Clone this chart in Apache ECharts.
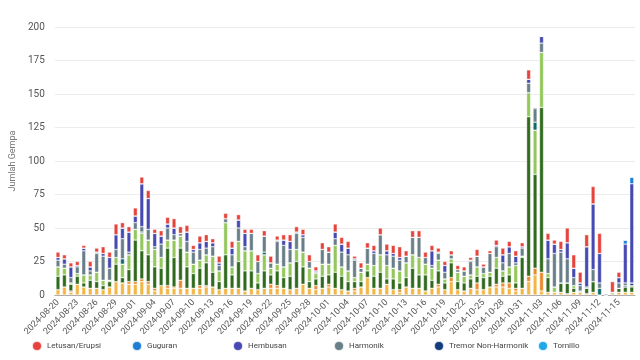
<!DOCTYPE html>
<html>
<head>
<meta charset="utf-8">
<title>Jumlah Gempa</title>
<script src="https://cdn.jsdelivr.net/npm/echarts@6/dist/echarts.min.js"></script>
<style>
  html, body { margin: 0; padding: 0; background: #fff; }
  #chart { width: 640px; height: 360px; }
</style>
</head>
<body>
<div id="chart"></div>
<script>
// tanggal harian 2024-08-20 .. 2024-11-17
const startDate = '2024-08-20'
const dayCount = 90
const dates = []
for (let i = 0; i < dayCount; i++) {
  const d = new Date(startDate + 'T00:00:00Z')
  d.setUTCDate(d.getUTCDate() + i)
  dates.push(d.toISOString().slice(0, 10))
}

const yTicks = { min: 0, max: 200, interval: 25 }

const tektonikJauh = [4,6,2,8,6,5,5,4,6,10, 9,8,8,10,8,3,7,5,5,5, 5,5,5,6,6,4,5,5,5,3, 5,4,5,5,5,5,4,5,8,5, 4,5,6,5,4,3,3,6,13,5, 5,8,4,2,6,5,5,3,5,6, 4,10,4,3,5,4,4,6,6,6, 5,3,5,10,15,3,2,2,2,1, 2,2,1,2,0,0,1,2,2,2]
const tektonikLokal = [0,0,1,0,0,0,0,0,0,0, 0,2,2,2,2,2,0,2,1,6, 0,0,2,1,0,0,0,0,0,0, 0,0,0,3,2,0,0,0,0,0, 3,0,2,0,0,0,2,0,0,0, 0,0,0,2,0,0,0,0,0,2, 0,3,0,0,0,5,0,0,2,3, 4,2,0,4,5,14,0,0,0,0, 0,0,0,0,0,0,0,0,0,0]
const vulkanikDalam = [10,9,5,6,3,6,5,3,4,13, 4,9,31,21,20,16,13,28,22,24, 16,11,13,17,11,6,25,10,20,15, 13,5,13,7,11,8,10,20,13,5, 5,9,7,12,10,7,5,4,5,9, 12,4,8,5,7,15,10,12,6,10, 5,11,6,6,7,5,9,8,12,5, 6,4,23,119,70,123,11,0,7,8, 3,1,4,8,0,0,1,3,4,4]
const vulkanikDangkal = [7,5,1,2,6,4,7,4,1,5, 10,11,8,13,11,13,8,6,13,9, 11,7,6,6,12,8,24,6,15,15, 15,7,12,5,5,8,10,9,11,10, 4,9,8,20,7,8,3,7,5,8, 13,10,8,9,11,10,13,8,9,8, 3,3,7,5,3,7,3,3,8,4, 6,13,1,18,33,41,3,4,0,0, 2,0,0,0,0,0,0,0,0,1]
const tremorNonHarmonik = [0,0,0,0,0,0,0,0,0,0, 0,0,0,1,0,0,0,0,0,0, 0,0,0,0,0,0,0,0,0,0, 0,0,0,0,0,0,0,0,0,0, 0,0,0,0,0,0,0,0,0,0, 0,0,0,0,0,0,0,0,0,0, 0,0,0,0,0,0,0,0,0,0, 0,0,0,0,0,0,0,0,0,0, 0,0,1,0,0,1,0,0,1,2]
const lowFrequency = [0,0,0,0,0,0,0,0,0,0, 4,0,0,0,0,0,0,0,0,0, 0,0,0,0,0,0,0,0,0,0, 0,0,2,0,0,0,0,0,0,0, 0,0,0,0,0,0,0,0,0,0, 0,0,0,0,0,0,0,0,0,0, 0,0,0,0,0,0,0,0,0,0, 0,0,0,0,6,0,0,0,0,0, 0,0,0,0,5,0,0,0,0,0]
const harmonik = [5,3,4,5,18,3,14,18,9,6, 15,2,5,4,8,2,10,9,4,2, 8,9,8,5,7,4,3,9,10,3, 13,9,12,4,17,16,10,12,11,5, 1,11,9,5,11,12,13,3,12,9, 15,8,9,8,5,13,15,5,2,5, 5,3,2,4,10,8,5,14,8,6, 10,2,6,7,10,7,11,25,23,18, 6,4,0,9,4,0,0,4,2,0]
const hembusan = [2,4,8,1,2,3,1,2,8,11, 8,15,5,32,23,10,6,3,5,0, 7,2,5,5,3,2,0,5,6,10, 0,0,0,0,1,4,6,1,2,0, 1,0,0,5,6,5,1,0,0,2, 0,3,2,2,0,0,0,0,11,1, 5,0,0,0,1,0,0,0,1,6, 5,5,1,3,1,5,14,7,2,12, 7,2,30,49,22,0,0,4,29,74]
const guguran = [0,0,0,0,0,0,0,0,0,0, 0,0,0,0,0,0,0,0,0,0, 0,0,0,0,0,0,0,0,0,0, 0,0,0,0,0,0,0,0,0,0, 0,0,0,0,0,0,0,0,0,0, 0,0,0,0,0,0,0,0,0,0, 0,0,0,0,0,0,0,0,0,0, 0,0,0,0,0,0,0,0,0,0, 0,0,0,0,0,0,0,0,3,5]
const tornillo = [0,0,0,0,0,0,0,0,0,0, 0,0,0,0,0,0,0,0,0,0, 0,0,0,0,0,0,0,0,0,0, 0,0,0,0,0,0,0,0,0,0, 0,0,0,0,0,0,0,0,0,0, 0,0,0,0,0,0,0,0,0,0, 0,0,0,0,0,0,0,0,0,0, 0,0,0,0,0,0,0,0,0,0, 0,0,0,0,0,0,0,0,0,0]
const letusan = [4,3,3,3,2,4,3,5,4,8, 4,4,6,5,6,3,4,5,7,5, 5,3,5,5,3,5,4,5,4,3, 3,5,4,5,3,4,5,4,4,5, 3,5,4,6,5,5,2,4,4,4, 5,5,6,8,4,5,5,4,4,3, 3,3,3,3,2,5,2,2,4,5, 4,4,3,7,0,0,5,3,6,11, 10,8,9,13,15,0,8,4,0,0]

const legendNames = ['Letusan/Erupsi', 'Guguran', 'Hembusan', 'Harmonik', 'Tremor Non-Harmonik', 'Tornillo']
const legendLeft = [26, 126, 227, 328, 428, 532]

// urutan tumpukan dari bawah ke atas
const seriesDefs = [
  { name: 'Tektonik Jauh', data: tektonikJauh, color: '#f3b646' },
  { name: 'Tektonik Lokal', data: tektonikLokal, color: '#e98a2c' },
  { name: 'Vulkanik Dalam', data: vulkanikDalam, color: '#2f6a1d' },
  { name: 'Vulkanik Dangkal', data: vulkanikDangkal, color: '#93c75b' },
  { name: 'Tremor Non-Harmonik', data: tremorNonHarmonik, color: '#123c7c' },
  { name: 'Low Frequency', data: lowFrequency, color: '#0f6a6a' },
  { name: 'Harmonik', data: harmonik, color: '#687e88' },
  { name: 'Hembusan', data: hembusan, color: '#4649b1' },
  { name: 'Guguran', data: guguran, color: '#1f7fd6' },
  { name: 'Tornillo', data: tornillo, color: '#1ea8e6' },
  { name: 'Letusan/Erupsi', data: letusan, color: '#e5433b' },
]

const chart = echarts.init(document.getElementById('chart'))

chart.setOption({
  animation: false,
  backgroundColor: '#fff',
  grid: {
    left: 40,
    right: 5,
    top: 27,
    bottom: 65,
  },
  legend: legendNames.map((name, i) => ({
    data: [name],
    bottom: 3,
    left: legendLeft[i],
    icon: 'circle',
    itemWidth: 10,
    itemHeight: 10,
    itemGap: 4,
    textStyle: {
      fontSize: 8,
      color: '#444',
      fontFamily: 'Roboto, sans-serif',
    },
  })),
  xAxis: {
    type: 'category',
    data: dates,
    axisTick: { show: false },
    axisLine: { lineStyle: { color: '#aaa' } },
    axisLabel: {
      interval: 2,
      rotate: 45,
      fontSize: 9,
      color: '#555',
      margin: 6,
      fontFamily: 'Roboto, sans-serif',
    },
  },
  yAxis: {
    type: 'value',
    min: yTicks.min,
    max: yTicks.max,
    interval: yTicks.interval,
    name: 'Jumlah Gempa',
    nameLocation: 'middle',
    nameGap: 27,
    nameTextStyle: { fontSize: 9, color: '#777', fontFamily: 'Roboto, sans-serif' },
    axisLabel: { fontSize: 10, color: '#555', margin: 10, fontFamily: 'Roboto, sans-serif' },
    splitLine: { lineStyle: { color: '#ececec' } },
  },
  series: seriesDefs.map(s => ({
    name: s.name,
    type: 'bar',
    stack: 'gempa',
    data: s.data,
    barWidth: '62%',
    itemStyle: {
      color: s.color,
      borderColor: 'rgba(255,255,255,0.8)',
      borderWidth: 0.5,
    },
  })),
})
</script>
</body>
</html>
